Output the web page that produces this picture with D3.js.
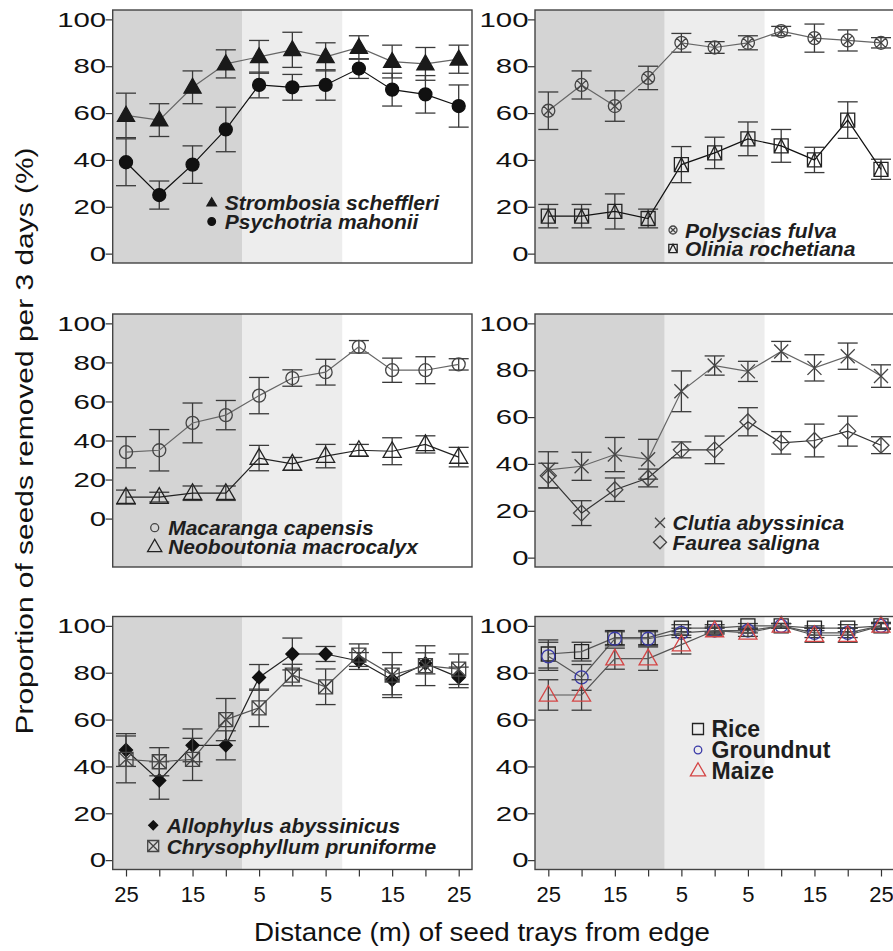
<!DOCTYPE html>
<html>
<head>
<meta charset="utf-8">
<script src="https://cdn.jsdelivr.net/npm/d3@7"></script>
<style>
  body { margin: 0; background: #fff; }
  text { font-family: Arial, "Liberation Sans", sans-serif; }
</style>
</head>
<body>
<div id="chart"></div>
<script>
// distances (m) of seed trays from edge: forest side -> edge -> open side
const distances = [25, 20, 15, 10, 5, 0, 5, 10, 15, 20, 25];
const yTicks = [0, 20, 40, 60, 80, 100];

// mean % removed per 3 days and error (+/-)
const strombosiaMean = [59, 57, 71, 81, 84, 87, 84, 88, 82, 81, 83];
const strombosiaErr  = [9.5, 7, 7, 6, 7, 7.5, 6, 5, 7, 7, 6];
const psychotriaMean = [39, 25, 38, 53, 72, 71, 72, 79, 70, 68, 63];
const psychotriaErr  = [10, 6, 8, 9.5, 5.5, 5.5, 6.5, 4.2, 7, 8, 9];

const polysciasMean = [61, 72, 63, 75, 90, 88, 90, 95, 92, 91, 90];
const polysciasErr  = [8, 6, 6.5, 5, 4, 2.5, 3, 2, 6, 4.5, 2.2];
const oliniaMean = [16, 16, 18, 15, 38, 43, 49, 46, 40, 57, 36];
const oliniaErr  = [5, 5, 7.5, 4, 7.7, 6.7, 7.2, 7, 5.4, 7.8, 4.3];

const macarangaMean = [34, 35, 49, 53, 63, 72, 75, 88, 76, 76, 79];
const macarangaErr  = [8, 10.6, 10.2, 7.5, 9.3, 4.2, 6.6, 3.2, 6.2, 6.9, 2.9];
const neoboutoniaMean = [11, 11, 13, 13, 31, 28, 32, 35, 34.5, 38, 31.5];
const neoboutoniaErr  = [3.6, 2.5, 3.7, 3.7, 6.5, 3.3, 6, 3, 6.9, 4.4, 5];

const clutiaMean = [37.5, 39, 44, 42, 71, 82, 79.5, 88, 81, 86, 77.5];
const clutiaErr  = [7.7, 6, 7.3, 8.5, 8.7, 4.1, 4.3, 4.3, 5.6, 5.6, 4.8];
const faureaMean = [35, 19, 29, 34, 46, 46, 58, 49, 50, 54, 48];
const faureaErr  = [5.3, 5.3, 5, 3.8, 3.4, 5.9, 6, 4.8, 7, 6.4, 3.6];

const allophylusMean = [47, 34, 49, 49, 78, 88, 88, 85, 77, 84, 78];
const allophylusErr  = [7, 8, 7, 6.2, 5.5, 6.8, 3.2, 3.6, 6.4, 4.5, 4.4];
const chrysophyllumMean = [43, 42, 43, 60, 65, 79, 74, 87.5, 79, 83, 81.5];
const chrysophyllumErr  = [10, 6, 9, 9, 8, 4.6, 7.6, 4.8, 9.6, 8.5, 6.5];

const riceMean = [88, 89, 95, 95, 99, 99, 100, 100, 99, 99, 100];
const riceErr  = [6, 4, 3, 3, 1.5, 1.5, 1, 1, 1, 1.5, 1];
const groundnutMean = [87, 78, 94.5, 94.5, 97, 98, 98, 100, 97, 97, 100];
const groundnutErr  = [6, 5.5, 3, 3, 2, 1, 1, 1, 2, 2, 1];
const maizeMean = [70.5, 70.5, 86, 86, 92, 98, 97, 100, 96, 96, 100];
const maizeErr  = [6.5, 6.5, 4.5, 5, 4, 1.5, 1.5, 1, 3, 3, 1.5];

const W = 893, H = 951;
const plotW = 359.3, plotH = 253;
const colLeft = [112.7, 535];
const rowTop = [10, 314, 616.5];

const panels = [
  { col: 0, row: 0, ylim: [0, 100], font: "italic", legend: { sx: 99, tx: 112, ys: [192.7, 211.5] },
    series: [
      { name: "Strombosia scheffleri", mean: strombosiaMean, err: strombosiaErr, sym: "triF", size: 9, lsize: 5, color: "#1a1a1a", line: "#666" },
      { name: "Psychotria mahonii", mean: psychotriaMean, err: psychotriaErr, sym: "circF", size: 6.5, lsize: 3.8, color: "#111", line: "#111" }
    ] },
  { col: 1, row: 0, ylim: [0, 100], font: "italic", legend: { sx: 138, tx: 150, ys: [220, 238.5] },
    series: [
      { name: "Polyscias fulva", mean: polysciasMean, err: polysciasErr, sym: "circX", size: 6.5, lsize: 4, color: "#444", line: "#666" },
      { name: "Olinia rochetiana", mean: oliniaMean, err: oliniaErr, sym: "sqTri", size: 7, lsize: 4.2, color: "#222", line: "#111" }
    ] },
  { col: 0, row: 1, ylim: [-20, 100], font: "italic", legend: { sx: 42, tx: 55.5, ys: [213.7, 232.7] },
    series: [
      { name: "Macaranga capensis", mean: macarangaMean, err: macarangaErr, sym: "circ", size: 6.5, lsize: 4, color: "#444", line: "#666" },
      { name: "Neoboutonia macrocalyx", mean: neoboutoniaMean, err: neoboutoniaErr, sym: "tri", size: 9.5, lsize: 7.5, color: "#222", line: "#222" }
    ] },
  { col: 1, row: 1, ylim: [0, 100], font: "italic", legend: { sx: 125, tx: 137.5, ys: [208.7, 228.3] },
    series: [
      { name: "Clutia abyssinica", mean: clutiaMean, err: clutiaErr, sym: "x", size: 7, lsize: 5, color: "#444", line: "#666" },
      { name: "Faurea saligna", mean: faureaMean, err: faureaErr, sym: "dia", size: 8, lsize: 6.5, color: "#444", line: "#333" }
    ] },
  { col: 0, row: 2, ylim: [0, 100], font: "italic", legend: { sx: 40.5, tx: 54, ys: [208.8, 229.5] },
    series: [
      { name: "Allophylus abyssinicus", mean: allophylusMean, err: allophylusErr, sym: "diaF", size: 6.5, lsize: 4.5, color: "#111", line: "#222" },
      { name: "Chrysophyllum pruniforme", mean: chrysophyllumMean, err: chrysophyllumErr, sym: "sqX", size: 7, lsize: 5.5, color: "#444", line: "#555" }
    ] },
  { col: 1, row: 2, ylim: [0, 100], font: "normal", legend: { sx: 163, tx: 176.5, ys: [112.5, 133.5, 154.2] },
    series: [
      { name: "Rice", mean: riceMean, err: riceErr, sym: "sq", size: 7, lsize: 5.5, color: "#222", line: "#555" },
      { name: "Groundnut", mean: groundnutMean, err: groundnutErr, sym: "circ", size: 6.5, lsize: 3.8, color: "#3a3aa8", line: "#555" },
      { name: "Maize", mean: maizeMean, err: maizeErr, sym: "tri", size: 9.5, lsize: 8, color: "#d44545", line: "#555" }
    ] }
];

const svg = d3.select("#chart").append("svg")
  .attr("width", W).attr("height", H)
  .style("background", "#fff");

// marker shapes as path strings, s = half size
function symbolPath(type, s) {
  const p = d3.path();
  if (type === "tri" || type === "triF") {
    p.moveTo(0, -s); p.lineTo(s * 0.95, s * 0.65); p.lineTo(-s * 0.95, s * 0.65); p.closePath();
  } else if (type === "circ" || type === "circF") {
    p.moveTo(s, 0); p.arc(0, 0, s, 0, 2 * Math.PI);
  } else if (type === "circX") {
    p.moveTo(s, 0); p.arc(0, 0, s, 0, 2 * Math.PI);
    const k = s * 0.707;
    p.moveTo(-k, -k); p.lineTo(k, k); p.moveTo(k, -k); p.lineTo(-k, k);
  } else if (type === "sq") {
    p.rect(-s, -s, 2 * s, 2 * s);
  } else if (type === "sqX") {
    p.rect(-s, -s, 2 * s, 2 * s);
    p.moveTo(-s, -s); p.lineTo(s, s); p.moveTo(s, -s); p.lineTo(-s, s);
  } else if (type === "sqTri") {
    p.rect(-s, -s, 2 * s, 2 * s);
    p.moveTo(-s, s); p.lineTo(0, -s); p.lineTo(s, s);
  } else if (type === "x") {
    p.moveTo(-s, -s); p.lineTo(s, s); p.moveTo(s, -s); p.lineTo(-s, s);
  } else if (type === "dia" || type === "diaF") {
    p.moveTo(0, -s); p.lineTo(s, 0); p.lineTo(0, s); p.lineTo(-s, 0); p.closePath();
  }
  return p.toString();
}

function drawSymbol(g, type, s, color, x, y) {
  const filled = type.endsWith("F");
  g.append("path")
    .attr("d", symbolPath(type, s))
    .attr("transform", `translate(${x},${y})`)
    .attr("fill", filled ? color : "none")
    .attr("stroke", color)
    .attr("stroke-width", 1.3);
}

const idx = d3.range(1, distances.length + 1);

panels.forEach(panel => {
  const left = colLeft[panel.col], top = rowTop[panel.row];
  const g = svg.append("g").attr("transform", `translate(${left},${top})`);

  const xScale = d3.scaleLinear().domain([0.6, 11.4]).range([0, plotW]);
  const pad = (panel.ylim[1] - panel.ylim[0]) * 0.04;
  const yScale = d3.scaleLinear()
    .domain([panel.ylim[0] - pad, panel.ylim[1] + pad])
    .range([plotH, 0]);

  // shaded zones: forest interior, edge, open
  g.append("rect").attr("x", 0).attr("y", 0)
    .attr("width", xScale(4.5)).attr("height", plotH).attr("fill", "#d4d4d4");
  g.append("rect").attr("x", xScale(4.5)).attr("y", 0)
    .attr("width", xScale(7.5) - xScale(4.5)).attr("height", plotH).attr("fill", "#ededed");

  // Y axis
  const yAxis = g.append("g")
    .call(d3.axisLeft(yScale).tickValues(yTicks).tickSize(7).tickSizeOuter(0));
  yAxis.select(".domain").remove();
  yAxis.selectAll(".tick line").attr("stroke", "#333").attr("stroke-width", 1.2);
  yAxis.selectAll(".tick text")
    .attr("x", 0)
    .attr("transform", "translate(-6.5,0) scale(1.4,1)")
    .attr("font-size", 21)
    .attr("fill", "#111");

  // X axis only on the bottom row
  if (panel.row === 2) {
    const xAxis = g.append("g")
      .attr("transform", `translate(0,${plotH})`)
      .call(d3.axisBottom(xScale).tickValues(idx).tickSize(7).tickSizeOuter(0)
        .tickFormat((d, i) => i % 2 === 0 ? distances[d - 1] : ""));
    xAxis.select(".domain").remove();
    xAxis.selectAll(".tick line").attr("stroke", "#333").attr("stroke-width", 1.2);
    xAxis.selectAll(".tick text")
      .attr("y", 0).attr("dy", null)
      .attr("transform", "translate(0,32)")
      .attr("font-size", 22)
      .attr("fill", "#111");
  }

  // series
  panel.series.forEach(s => {
    const pts = idx.map((x, i) => ({ x, m: s.mean[i], e: s.err[i] }));

    const eb = g.append("g").attr("stroke", "#3a3a3a").attr("stroke-width", 1.3);
    pts.forEach(d => {
      const x = xScale(d.x), y0 = yScale(d.m - d.e), y1 = yScale(d.m + d.e);
      eb.append("line").attr("x1", x).attr("x2", x).attr("y1", y0).attr("y2", y1);
      eb.append("line").attr("x1", x - 10).attr("x2", x + 10).attr("y1", y0).attr("y2", y0);
      eb.append("line").attr("x1", x - 10).attr("x2", x + 10).attr("y1", y1).attr("y2", y1);
    });

    g.append("path")
      .datum(pts)
      .attr("fill", "none")
      .attr("stroke", s.line)
      .attr("stroke-width", 1.2)
      .attr("d", d3.line().x(d => xScale(d.x)).y(d => yScale(d.m)));

    pts.forEach(d => drawSymbol(g, s.sym, s.size, s.color, xScale(d.x), yScale(d.m)));
  });

  // legend
  panel.series.forEach((s, i) => {
    const ly = panel.legend.ys[i];
    drawSymbol(g, s.sym, s.lsize, s.color, panel.legend.sx, ly);
    g.append("text")
      .attr("x", panel.legend.tx)
      .attr("y", ly)
      .attr("dy", "0.36em")
      .attr("font-size", panel.font === "italic" ? 21 : 23)
      .attr("font-weight", "bold")
      .attr("font-style", panel.font)
      .attr("fill", "#1e1e1e")
      .text(s.name);
  });

  // box
  g.append("rect")
    .attr("x", 0).attr("y", 0).attr("width", plotW).attr("height", plotH)
    .attr("fill", "none").attr("stroke", "#444").attr("stroke-width", 1.4);
});

// axis titles
svg.append("text")
  .attr("x", 482).attr("y", 941)
  .attr("text-anchor", "middle")
  .attr("font-size", 25)
  .attr("fill", "#111")
  .attr("textLength", 456)
  .attr("lengthAdjust", "spacingAndGlyphs")
  .text("Distance (m) of seed trays from edge");

svg.append("text")
  .attr("transform", "translate(33,441) rotate(-90)")
  .attr("text-anchor", "middle")
  .attr("font-size", 23)
  .attr("fill", "#111")
  .attr("textLength", 587)
  .attr("lengthAdjust", "spacingAndGlyphs")
  .text("Proportion of seeds removed per 3 days (%)");
</script>
</body>
</html>
